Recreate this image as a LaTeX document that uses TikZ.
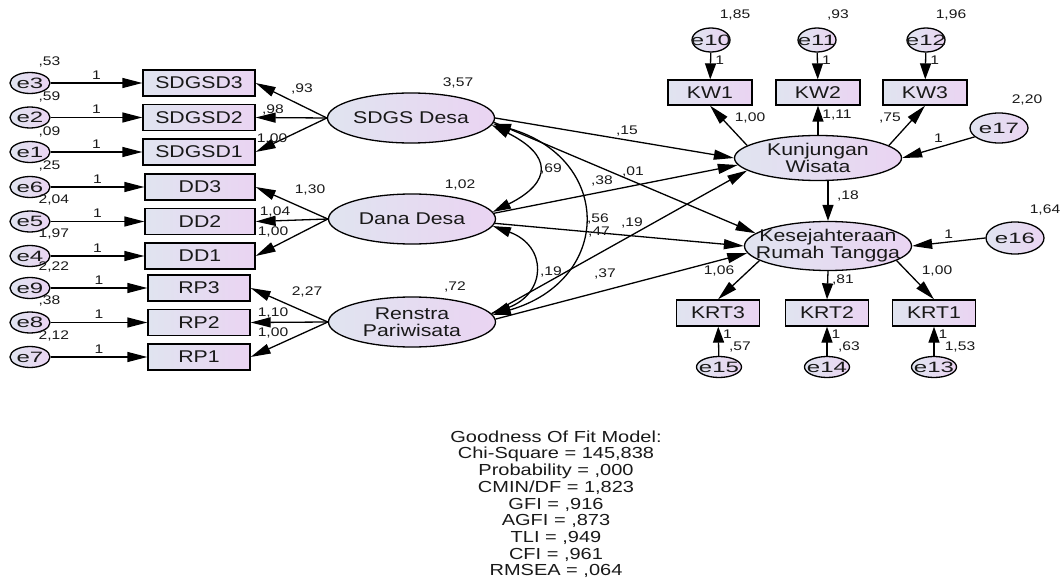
\documentclass[tikz,border=0pt]{standalone}
\usepackage{fontspec}
\setmainfont{Liberation Sans}[FakeStretch=1.25]
\newfontfamily\errfont{Liberation Sans}[FakeStretch=1.6]
\usetikzlibrary{shapes.geometric,arrows.meta}
\definecolor{boxleft}{RGB}{224,228,240}
\definecolor{boxright}{RGB}{234,212,242}

\begin{document}
\begin{tikzpicture}[x=1pt, y=-1pt, line width=1.3pt]
			\tikzset{every node/.style={inner sep=0pt, text=black!90},
				obs/.style={draw, rectangle, left color=boxleft, right color=boxright, minimum height=26pt, font=\fontsize{17}{17}\selectfont},
				lat/.style={draw, ellipse, left color=boxleft, right color=boxright, minimum width=167pt, minimum height=50pt, label={[align=center, font=\fontsize{17}{17}\selectfont]center:#1}},
				err/.style={draw, ellipse, left color=boxleft, right color=boxright, label={[font=\fontsize{15}{15}\errfont]center:#1}},
				num/.style={font=\fontsize{12.5}{13}\selectfont},
				arr/.style={-{Triangle[length=20pt, width=10pt]}},
				varr/.style={-{Triangle[length=16pt, width=11pt]}},
				cov/.style={{Triangle[length=18pt, width=10pt]}-{Triangle[length=18pt, width=10pt]}}}
			\useasboundingbox (0,0) rectangle (1062,580);

				\node[lat={SDGS Desa}] (sd) at (411,118) {};
				\node[lat={Dana Desa}] (dd) at (412,219) {};
				\node[lat={Renstra\\Pariwisata}] (rp) at (412,322) {};
				\node[lat={Kunjungan\\Wisata}, minimum height=45pt] (kw) at (818,158) {};
				\node[lat={Kesejahteraan\\Rumah Tangga}, minimum height=49pt] (krt) at (828,246) {};

				\node[obs, minimum width=112pt] (sd3) at (199,83) {SDGSD3};
				\node[obs, minimum width=112pt] (sd2) at (199,117.5) {SDGSD2};
				\node[obs, minimum width=112pt] (sd1) at (199,152) {SDGSD1};
				\node[obs, minimum width=110pt] (dd3) at (200,187) {DD3};
				\node[obs, minimum width=110pt] (dd2) at (200,221.5) {DD2};
				\node[obs, minimum width=110pt] (dd1) at (200,256) {DD1};
				\node[obs, minimum width=102pt] (rp3) at (199,288) {RP3};
				\node[obs, minimum width=102pt] (rp2) at (199,322.5) {RP2};
				\node[obs, minimum width=102pt] (rp1) at (199,357) {RP1};
				\node[obs, minimum width=84pt, minimum height=25pt] (kw1) at (710,92.5) {KW1};
				\node[obs, minimum width=84pt, minimum height=25pt] (kw2) at (818,92.5) {KW2};
				\node[obs, minimum width=84pt, minimum height=25pt] (kw3) at (925,92.5) {KW3};
				\node[obs, minimum width=83pt] (krt3) at (718,313) {KRT3};
				\node[obs, minimum width=83pt] (krt2) at (827,313) {KRT2};
				\node[obs, minimum width=83pt] (krt1) at (934,313) {KRT1};

				\node[err=e3, minimum width=40pt, minimum height=21pt] (e3) at (30,83) {};
				\node[err=e2, minimum width=40pt, minimum height=21pt] (e2) at (30,117.5) {};
				\node[err=e1, minimum width=40pt, minimum height=21pt] (e1) at (30,152) {};
				\node[err=e6, minimum width=40pt, minimum height=21pt] (e6) at (30,187) {};
				\node[err=e5, minimum width=40pt, minimum height=21pt] (e5) at (30,221.5) {};
				\node[err=e4, minimum width=40pt, minimum height=21pt] (e4) at (30,256) {};
				\node[err=e9, minimum width=40pt, minimum height=21pt] (e9) at (30,288) {};
				\node[err=e8, minimum width=40pt, minimum height=21pt] (e8) at (30,322.5) {};
				\node[err=e7, minimum width=40pt, minimum height=21pt] (e7) at (30,357) {};
				\node[err=e10, minimum width=38pt, minimum height=24pt] (e10) at (711,40) {};
				\node[err=e11, minimum width=38pt, minimum height=24pt] (e11) at (817,40) {};
				\node[err=e12, minimum width=38pt, minimum height=24pt] (e12) at (926,40) {};
				\node[err=e17, minimum width=58pt, minimum height=30pt] (e17) at (999,128) {};
				\node[err=e16, minimum width=58pt, minimum height=32pt] (e16) at (1015,238) {};
				\node[err=e15, minimum width=45pt, minimum height=21pt] (e15) at (719,367) {};
				\node[err=e14, minimum width=45pt, minimum height=21pt] (e14) at (827,367) {};
				\node[err=e13, minimum width=45pt, minimum height=21pt] (e13) at (934,367) {};

				\draw[arr] (e3) -- node[num, above=3pt] (le3) {1} (sd3);
				\draw[arr] (e2) -- node[num, above=3pt] (le2) {1} (sd2);
				\draw[arr] (e1) -- node[num, above=3pt] (le1) {1} (sd1);
				\draw[arr] (e6) -- node[num, above=3pt] (le6) {1} (dd3);
				\draw[arr] (e5) -- node[num, above=3pt] (le5) {1} (dd2);
				\draw[arr] (e4) -- node[num, above=3pt] (le4) {1} (dd1);
				\draw[arr] (e9) -- node[num, above=3pt] (le9) {1} (rp3);
				\draw[arr] (e8) -- node[num, above=3pt] (le8) {1} (rp2);
				\draw[arr] (e7) -- node[num, above=3pt] (le7) {1} (rp1);
				\draw[varr] (e10) -- node[num, pos=0.3, right=4pt] (le10) {1} (kw1);
				\draw[varr] (e11) -- node[num, pos=0.3, right=4pt] (le11) {1} (kw2);
				\draw[varr] (e12) -- node[num, pos=0.3, right=4pt] (le12) {1} (kw3);
				\draw[varr] (e15) -- node[num, pos=0.74, right=4pt] (le15) {1} (krt3);
				\draw[varr] (e14) -- node[num, pos=0.74, right=4pt] (le14) {1} (krt2);
				\draw[varr] (e13) -- node[num, pos=0.74, right=4pt] (le13) {1} (krt1);
				\draw[arr] (e17.200) -- node[num, above=4pt] (le17) {1} (kw.east);
				\draw[arr] (e16.west) -- node[num, above=3pt] (le16) {1} (krt.east);

				\draw[arr] (sd.west) -- (sd3.east);
				\draw[arr] (sd.west) -- (sd2.east);
				\draw[arr] (sd.west) -- (sd1.east);
				\draw[arr] (dd.west) -- (dd3.east);
				\draw[arr] (dd.west) -- (dd2.east);
				\draw[arr] (dd.west) -- (dd1.east);
				\draw[arr] (rp.west) -- (rp3.east);
				\draw[arr] (rp.west) -- (rp2.east);
				\draw[arr] (rp.west) -- (rp1.east);
				\draw[arr] (kw.170) -- (kw1.south);
				\draw[varr] (kw.north) -- (kw2.south);
				\draw[arr] (kw.10) -- (kw3.south);
				\draw[arr] (krt.192) -- (krt3.north);
				\draw[varr] (krt.south) -- (krt2.north);
				\draw[arr] (krt.-12) -- (krt1.north);

				\draw[arr] (sd.east) -- (kw.west);
				\draw[arr] (sd.-3) -- (krt.170);
				\draw[arr] (dd.4) -- (kw.185);
				\draw[arr] (dd.-3) -- (krt.west);
				\draw[arr] (rp.6) -- (kw.190);
				\draw[arr] (rp.2) -- (krt.185);
				\draw[varr] (kw.south -| krt.north) -- (krt.north);

				\draw[cov] (sd.-5) .. controls +(60,30) and +(60,-30) .. (dd.5);
				\draw[cov] (dd.-5) .. controls +(55,20) and +(55,-20) .. (rp.6);
				\draw[cov] (sd.-4) .. controls +(120,35) and +(120,-35) .. (rp.5);

				\node[num, anchor=west] (ve3) at (38,62) {,53};
				\node[num, anchor=west] (ve2) at (38,97) {,59};
				\node[num, anchor=west] (ve1) at (38,132) {,09};
				\node[num, anchor=west] (ve6) at (38,166) {,25};
				\node[num, anchor=west] (ve5) at (38,200) {2,04};
				\node[num, anchor=west] (ve4) at (38,234) {1,97};
				\node[num, anchor=west] (ve9) at (38,267) {2,22};
				\node[num, anchor=west] (ve8) at (38,301) {,38};
				\node[num, anchor=west] (ve7) at (38,336) {2,12};
				\node[num] (ve10) at (735,15) {1,85};
				\node[num] (ve11) at (838,15) {,93};
				\node[num] (ve12) at (951,15) {1,96};
				\node[num] (ve17) at (1027,100) {2,20};
				\node[num] (ve16) at (1045,210) {1,64};
				\node[num] (ve15) at (740,347) {,57};
				\node[num] (ve14) at (849,347) {,63};
				\node[num] (ve13) at (960,347) {1,53};
				\node[num] (vsd) at (458,83) {3,57};
				\node[num] (vdd) at (460,185) {1,02};
				\node[num] (vrp) at (455,287) {,72};

				\node[num] (lsd3) at (302,89) {,93};
				\node[num] (lsd2) at (273,110) {,98};
				\node[num] (lsd1) at (272,139) {1,00};
				\node[num] (ldd3) at (310,190) {1,30};
				\node[num] (ldd2) at (275,212) {1,04};
				\node[num] (ldd1) at (273,232) {1,00};
				\node[num] (lrp3) at (307,292) {2,27};
				\node[num] (lrp2) at (273,313) {1,10};
				\node[num] (lrp1) at (273,333) {1,00};
				\node[num] (lkw1) at (750,118) {1,00};
				\node[num] (lkw2) at (837,115) {1,11};
				\node[num] (lkw3) at (890,118) {,75};
				\node[num] (lkrt3) at (719,271) {1,06};
				\node[num] (lkrt2) at (843,280) {,81};
				\node[num] (lkrt1) at (937,271) {1,00};

				\node[num] (psdkw) at (627,131) {,15};
				\node[num] (psdkrt) at (633,172) {,01};
				\node[num] (pddkw) at (602,181) {,38};
				\node[num] (pddkrt) at (598,219) {,56};
				\node[num] (prpkw) at (632,223) {,19};
				\node[num] (prpkrt) at (605,274) {,37};
				\node[num] (pkwkrt) at (848,196) {,18};
				\node[num] (csddd) at (551,169) {,69};
				\node[num] (csdrp) at (599,232) {,47};
				\node[num] (cddrp) at (551,272) {,19};

				\node[anchor=north, align=center, font=\fontsize{16}{16.7}\selectfont] (fit) at (556,430) {Goodness Of Fit Model:\\Chi-Square = 145,838\\Probability = ,000\\CMIN/DF = 1,823\\GFI = ,916\\AGFI = ,873\\TLI = ,949\\CFI = ,961\\RMSEA = ,064};
			\end{tikzpicture}
\end{document}
